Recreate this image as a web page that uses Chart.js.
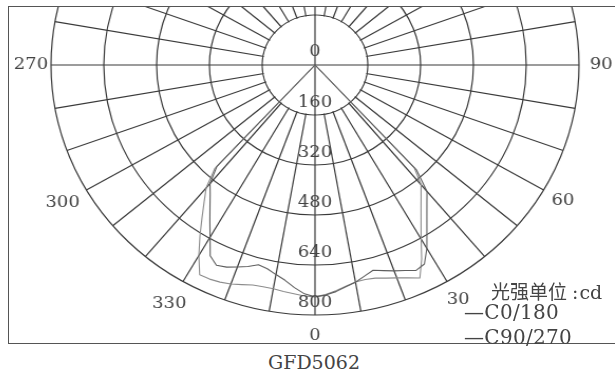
<!DOCTYPE html>
<html>
<head>
<meta charset="utf-8">
<script src="https://cdn.jsdelivr.net/npm/chart.js@4/dist/chart.umd.min.js"></script>
<style>
  html, body { margin: 0; padding: 0; background: #fff; }
  body { width: 615px; height: 372px; position: relative; overflow: hidden; }
  #plotClip { position: absolute; left: 0; top: 7px; width: 615px; height: 337px; overflow: hidden; }
  #polar { position: absolute; left: 15px; top: -192px; transform: scaleX(1.056); transform-origin: 300px 250px; }
  #frame { position: absolute; left: 8px; top: 6px; width: 630px; height: 338px; box-sizing: border-box; border: 1.5px solid #555; }
  .txt { position: absolute; font-family: "DejaVu Serif", "Noto Sans CJK SC", serif; color: #444; white-space: nowrap; }
  #caption { left: 214px; width: 200px; top: 351px; text-align: center; font-size: 19px; line-height: 22px; }
  #unit { left: 491px; top: 281px; font-size: 19px; line-height: 22px; }
  #unit .sep { margin-left: 5px; margin-right: 1px; }
  #lg1 { left: 464px; top: 301px; font-size: 20px; line-height: 22px; letter-spacing: 0.3px; }
  #lg2 { left: 464px; top: 326px; font-size: 20px; line-height: 22px; letter-spacing: 0.3px; }
</style>
</head>
<body>
<div id="plotClip"><canvas id="polar" width="600" height="560"></canvas></div>
<div id="frame"></div>
<div class="txt" id="caption">GFD5062</div>
<div class="txt" id="unit">光强单位<span class="sep">:</span>cd</div>
<div class="txt" id="lg1">—C0/180</div>
<div class="txt" id="lg2">—C90/270</div>
<script>
// Luminous intensity (cd) against angle from nadir, 0°..45° in 2.5° steps
const STEP = 2.5;
const gammaDeg = [0, 2.5, 5, 7.5, 10, 12.5, 15, 17.5, 20, 22.5, 25, 27.5, 30, 32.5, 35, 37.5, 40, 42.5, 45];

// C0/180 plane: C0 half on the right, C180 half on the left
const c0Half   = [742, 737, 728, 716, 706, 692, 680, 690, 701, 712, 725, 718, 678, 631, 591, 557, 528, 455, 0];
const c180Half = [742, 733, 715, 695, 681, 668, 662, 676, 688, 700, 707, 688, 636, 593, 555, 522, 495, 440, 0];

// C90/270 plane: C90 half on the right, C270 half on the left
const c90Half  = [742, 735, 725, 714, 705, 703, 706, 715, 725, 737, 752, 700, 643, 598, 560, 528, 500, 445, 0];
const c270Half = [742, 740, 735, 731, 727, 727, 729, 737, 746, 752, 756, 757, 704, 649, 597, 552, 513, 450, 0];

// Intensity rings and the labelled directions
const ringTicks = [0, 160, 320, 480, 640, 800];
const directionLabels = [270, 300, 330, 0, 30, 60, 90];
const directionLabelGap = [19, 26, 26, 21, 21, 21, 21];

const GRID = '#3a3a3a';
const TEXT = '#444';
const FONT = '17px "DejaVu Serif", serif';

// One spoke every 2.5°, starting at the bottom and running clockwise (towards 270)
const spokeCount = 360 / STEP;
const angleLabels = Array.from({ length: spokeCount }, (_, i) => String((360 - i * STEP) % 360));

function planeSeries(rightHalf, leftHalf) {
  const maxG = gammaDeg[gammaDeg.length - 1];
  return angleLabels.map((_, i) => {
    const a = i * STEP;
    if (a <= maxG) return leftHalf[gammaDeg.indexOf(a)];
    if (360 - a <= maxG) return rightHalf[gammaDeg.indexOf(360 - a)];
    return 0;
  });
}

// Clear the hub inside the first ring, keeping only the two main axes there
const hubPlugin = {
  id: 'hub',
  beforeDatasetsDraw(chart) {
    const s = chart.scales.r;
    const ctx = chart.ctx;
    const r = s.getDistanceFromCenterForValue(ringTicks[1]);
    ctx.save();
    ctx.beginPath();
    ctx.arc(s.xCenter, s.yCenter, r - 0.8, 0, Math.PI * 2);
    ctx.fillStyle = '#fff';
    ctx.fill();
    ctx.strokeStyle = GRID;
    ctx.lineWidth = 1.2;
    ctx.beginPath();
    ctx.moveTo(s.xCenter - r, s.yCenter);
    ctx.lineTo(s.xCenter + r, s.yCenter);
    ctx.moveTo(s.xCenter, s.yCenter - r);
    ctx.lineTo(s.xCenter, s.yCenter + r);
    ctx.stroke();
    ctx.restore();
  },
  afterDatasetsDraw(chart) {
    const s = chart.scales.r;
    const ctx = chart.ctx;
    ctx.save();
    ctx.font = FONT;
    ctx.fillStyle = TEXT;
    ctx.textAlign = 'center';
    ctx.textBaseline = 'middle';
    // ring values along the downward axis, just inside each ring
    ringTicks.forEach(v => {
      const d = s.getDistanceFromCenterForValue(v);
      const y = v === 0 ? s.yCenter - 13 : s.yCenter + d - 12;
      ctx.fillText(String(v), s.xCenter, y);
    });
    // direction labels outside the outer ring
    const outer = s.getDistanceFromCenterForValue(ringTicks[ringTicks.length - 1]);
    directionLabels.forEach((deg, k) => {
      const idx = ((360 - deg) % 360) / STEP;
      const p = s.getPointPosition(idx, outer + directionLabelGap[k]);
      ctx.fillText(String(deg), p.x, p.y);
    });
    ctx.restore();
  }
};

new Chart(document.getElementById('polar'), {
  type: 'radar',
  data: {
    labels: angleLabels,
    datasets: [
      { label: 'C0/180', data: planeSeries(c0Half, c180Half), borderColor: '#5e5e5e', borderWidth: 1.1, fill: false, pointRadius: 0 },
      { label: 'C90/270', data: planeSeries(c90Half, c270Half), borderColor: '#8c8c8c', borderWidth: 1.1, fill: false, pointRadius: 0 }
    ]
  },
  options: {
    responsive: false,
    animation: false,
    devicePixelRatio: 1,
    layout: { padding: { top: 0, left: 0, right: 0, bottom: 60 } },
    elements: { line: { tension: 0, borderJoinStyle: 'round' } },
    plugins: { legend: { display: false }, tooltip: { enabled: false } },
    scales: {
      r: {
        min: 0,
        max: 800,
        startAngle: 180,
        ticks: { display: false, stepSize: 160 },
        grid: { circular: true, color: GRID, lineWidth: 1.2 },
        angleLines: { color: GRID, lineWidth: ctx => (ctx.index % 4 === 0 ? 1.2 : 0) },
        pointLabels: { display: false }
      }
    }
  },
  plugins: [hubPlugin]
});
</script>
</body>
</html>
